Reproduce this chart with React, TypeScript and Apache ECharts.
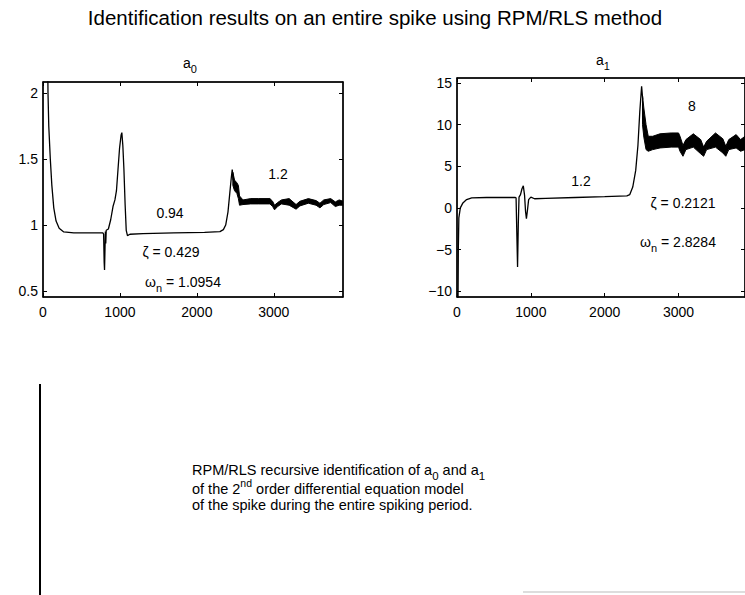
import React, { useEffect, useRef } from "react";
import * as echarts from "echarts";

// ---- data ----
const xTicks = [0, 1000, 2000, 3000];
const a0Ticks = [0.5, 1, 1.5, 2];
const a1Ticks = [-10, -5, 0, 5, 10, 15];

// a0 estimate, smooth part [sample, value]
const a0Line: [number, number][] = [
  [60, 2.3], [65, 2.0], [75, 1.75], [95, 1.5], [115, 1.3], [140, 1.13], [170, 1.03],
  [210, 0.975], [270, 0.948], [400, 0.94], [780, 0.94], [788, 0.93], [795, 0.72],
  [800, 0.66], [806, 0.82], [811, 0.95], [816, 0.86], [822, 0.96], [850, 0.97],
  [880, 1.04], [910, 1.14], [935, 1.19], [955, 1.26], [975, 1.42], [995, 1.58],
  [1015, 1.68], [1025, 1.70], [1038, 1.6], [1052, 1.42], [1068, 1.15], [1082, 0.96],
  [1098, 0.92], [1130, 0.93], [1300, 0.935], [1700, 0.94], [2100, 0.945], [2300, 0.95],
  [2345, 0.965], [2375, 1.0], [2405, 1.1], [2428, 1.24], [2448, 1.36], [2460, 1.42],
  [2472, 1.34],
];
// a0 estimate, fast-oscillating part: [sample, low envelope, high envelope]
const a0Band: [number, number, number][] = [
  [2468, 1.3, 1.4], [2490, 1.26, 1.34], [2520, 1.24, 1.32], [2540, 1.2, 1.3],
  [2555, 1.15, 1.22], [2600, 1.155, 1.19], [2700, 1.16, 1.2], [2800, 1.16, 1.2],
  [2950, 1.16, 1.2], [2985, 1.14, 1.18], [3010, 1.115, 1.15], [3050, 1.14, 1.17],
  [3100, 1.16, 1.19], [3200, 1.15, 1.2], [3290, 1.12, 1.155], [3340, 1.145, 1.18],
  [3450, 1.165, 1.2], [3550, 1.15, 1.185], [3600, 1.13, 1.165], [3650, 1.155, 1.19],
  [3740, 1.17, 1.2], [3800, 1.14, 1.175], [3850, 1.15, 1.19], [3900, 1.15, 1.18],
];

// a1 estimate, smooth part
const a1Line: [number, number][] = [
  [14, -11.5], [18, -5], [25, -1.2], [45, 0], [80, 0.6], [130, 1.0], [200, 1.2],
  [400, 1.25], [790, 1.25], [800, 1.2], [810, -3], [820, -7.1], [830, -2], [840, 1.3],
  [860, 1.6], [880, 2.3], [898, 2.65], [915, 1.5], [928, -0.4], [940, -1.3],
  [955, -0.2], [970, 1.0], [1000, 1.3], [1050, 1.1], [1200, 1.15], [1600, 1.25],
  [2000, 1.35], [2300, 1.45], [2340, 1.6], [2380, 2.5], [2420, 4.5], [2450, 7.5],
  [2475, 11.5], [2500, 14.6], [2515, 13],
];
// a1 estimate, fast-oscillating part
const a1Band: [number, number, number][] = [
  [2512, 10, 13.5], [2530, 8.5, 12], [2560, 7.0, 10], [2590, 6.8, 8.6],
  [2650, 7.0, 8.6], [2750, 7.2, 8.9], [2900, 7.3, 9.0], [3000, 7.3, 9.0],
  [3020, 6.8, 8.6], [3060, 6.2, 7.5], [3100, 7.0, 8.2], [3200, 7.3, 8.9],
  [3300, 6.5, 8.2], [3340, 6.2, 7.3], [3380, 7.0, 8.0], [3500, 7.3, 9.0],
  [3600, 6.6, 8.3], [3640, 6.2, 7.4], [3680, 7.0, 8.2], [3780, 7.2, 8.8],
  [3840, 6.8, 8.2], [3900, 7.0, 8.6],
];

const FONT = "Liberation Sans, Arial, sans-serif";
const TICK_FS = 14;

function bandSeries(band: [number, number, number][], xi: number) {
  return {
    type: "custom",
    xAxisIndex: xi,
    yAxisIndex: xi,
    clip: true,
    data: [[0]],
    renderItem: (_params: any, api: any) => {
      const pts: number[][] = [];
      band.forEach((b) => pts.push(api.coord([b[0], b[2]])));
      for (let i = band.length - 1; i >= 0; i--) pts.push(api.coord([band[i][0], band[i][1]]));
      return {
        type: "polygon",
        shape: { points: pts },
        style: { fill: "#000", stroke: "#000", lineWidth: 1 },
      };
    },
  };
}

function xAxes(gi: number, show: boolean) {
  return [
    {
      type: "value", gridIndex: gi, min: 0, max: 3900, position: "bottom",
      axisLine: { show: true, onZero: false, lineStyle: { color: "#000", width: 1.5 } },
      axisTick: { show: true, inside: true, length: 4, customValues: xTicks, lineStyle: { color: "#000" } },
      axisLabel: {
        show, customValues: xTicks, color: "#000", fontSize: TICK_FS, fontFamily: FONT, margin: 8,
        formatter: (v: number) => String(v),
      },
      splitLine: { show: false },
    },
    {
      type: "value", gridIndex: gi, min: 0, max: 3900, position: "top",
      axisLine: { show: true, onZero: false, lineStyle: { color: "#000", width: 1.5 } },
      axisTick: { show: true, inside: true, length: 4, customValues: xTicks, lineStyle: { color: "#000" } },
      axisLabel: { show: false },
      splitLine: { show: false },
    },
  ];
}

function yAxes(gi: number, min: number, max: number, ticks: number[]) {
  const fmt = (v: number) => String(v).replace("-", "\u2212");
  return [
    {
      type: "value", gridIndex: gi, min, max, position: "left",
      axisLine: { show: true, onZero: false, lineStyle: { color: "#000", width: 1.5 } },
      axisTick: { show: true, inside: true, length: 4, customValues: ticks, lineStyle: { color: "#000" } },
      axisLabel: { customValues: ticks, color: "#000", fontSize: TICK_FS, fontFamily: FONT, margin: 5, formatter: fmt },
      splitLine: { show: false },
    },
    {
      type: "value", gridIndex: gi, min, max, position: "right",
      axisLine: { show: true, onZero: false, lineStyle: { color: "#000", width: 1.5 } },
      axisTick: { show: true, inside: true, length: 4, customValues: ticks, lineStyle: { color: "#000" } },
      axisLabel: { show: false },
      splitLine: { show: false },
    },
  ];
}

const txt = (x: number, y: number, text: string, rich: any, size = 14, align = "center") => ({
  type: "text",
  x, y,
  style: {
    text, fill: "#000", fontSize: size, fontFamily: FONT, align, verticalAlign: "middle", rich,
  },
});

const subRich = (size: number) => ({
  b: { fontSize: size, fontFamily: FONT, color: "#000" },
  s: { fontSize: size - 3, fontFamily: FONT, color: "#000", padding: [size - 2, 0, 0, 0] },
  u: { fontSize: size - 4, fontFamily: FONT, color: "#000", padding: [0, 0, size - 3, 0] },
});

export default function App() {
  const ref = useRef<HTMLDivElement>(null);
  useEffect(() => {
    const chart = echarts.init(ref.current!, undefined, { renderer: "svg" });
    const xa = [...xAxes(0, true), ...xAxes(1, true)];
    const ya = [...yAxes(0, 0.455, 2.083, a0Ticks), ...yAxes(1, -10.7, 15.6, a1Ticks)];
    chart.setOption({
      animation: false,
      backgroundColor: "#fff",
      grid: [
        { left: 43, top: 82, width: 300, height: 215, show: true, borderColor: "#000", borderWidth: 1 },
        { left: 457, top: 78, width: 289, height: 219, show: true, borderColor: "#000", borderWidth: 1 },
      ],
      xAxis: xa,
      yAxis: ya,
      series: [
        {
          type: "line", xAxisIndex: 0, yAxisIndex: 0, data: a0Line, showSymbol: false,
          lineStyle: { color: "#000", width: 1.3 }, clip: true,
        },
        bandSeries(a0Band, 0),
        {
          type: "line", xAxisIndex: 2, yAxisIndex: 2, data: a1Line, showSymbol: false,
          lineStyle: { color: "#000", width: 1.3 }, clip: true,
        },
        bandSeries(a1Band, 2),
      ],
      graphic: [
        txt(375, 17, "Identification results on an entire spike using RPM/RLS method", undefined, 20.5),
        txt(190, 63, "{b|a}{s|0}", subRich(14)),
        txt(603, 60, "{b|a}{s|1}", subRich(14)),
        txt(170, 213, "0.94"),
        txt(278, 174, "1.2"),
        txt(171, 252, "\u03B6 = 0.429"),
        txt(183, 282, "{b|\u03C9}{s|n}{b| = 1.0954}", subRich(14)),
        txt(692, 106, "8"),
        txt(581, 181, "1.2"),
        txt(683, 203, "\u03B6 = 0.2121"),
        txt(678, 242, "{b|\u03C9}{s|n}{b| = 2.8284}", subRich(14)),
        { type: "line", shape: { x1: 40, y1: 384, x2: 40, y2: 595 }, style: { stroke: "#000", lineWidth: 2 } },
        { type: "line", shape: { x1: 523, y1: 592, x2: 745, y2: 592 }, style: { stroke: "#bbb", lineWidth: 1 } },
        txt(192, 470, "{b|RPM/RLS recursive identification of a}{s|0}{b| and a}{s|1}", subRich(14.5), 14.5, "left"),
        txt(192, 489, "{b|of the 2}{u|nd}{b| order differential equation model}", subRich(14.5), 14.5, "left"),
        txt(192, 505, "of the spike during the entire spiking period.", undefined, 14.5, "left"),
      ],
    });
    return () => chart.dispose();
  }, []);
  return <div ref={ref} style={{ width: 745, height: 595, position: "absolute", left: 0, top: 0 }} />;
}
